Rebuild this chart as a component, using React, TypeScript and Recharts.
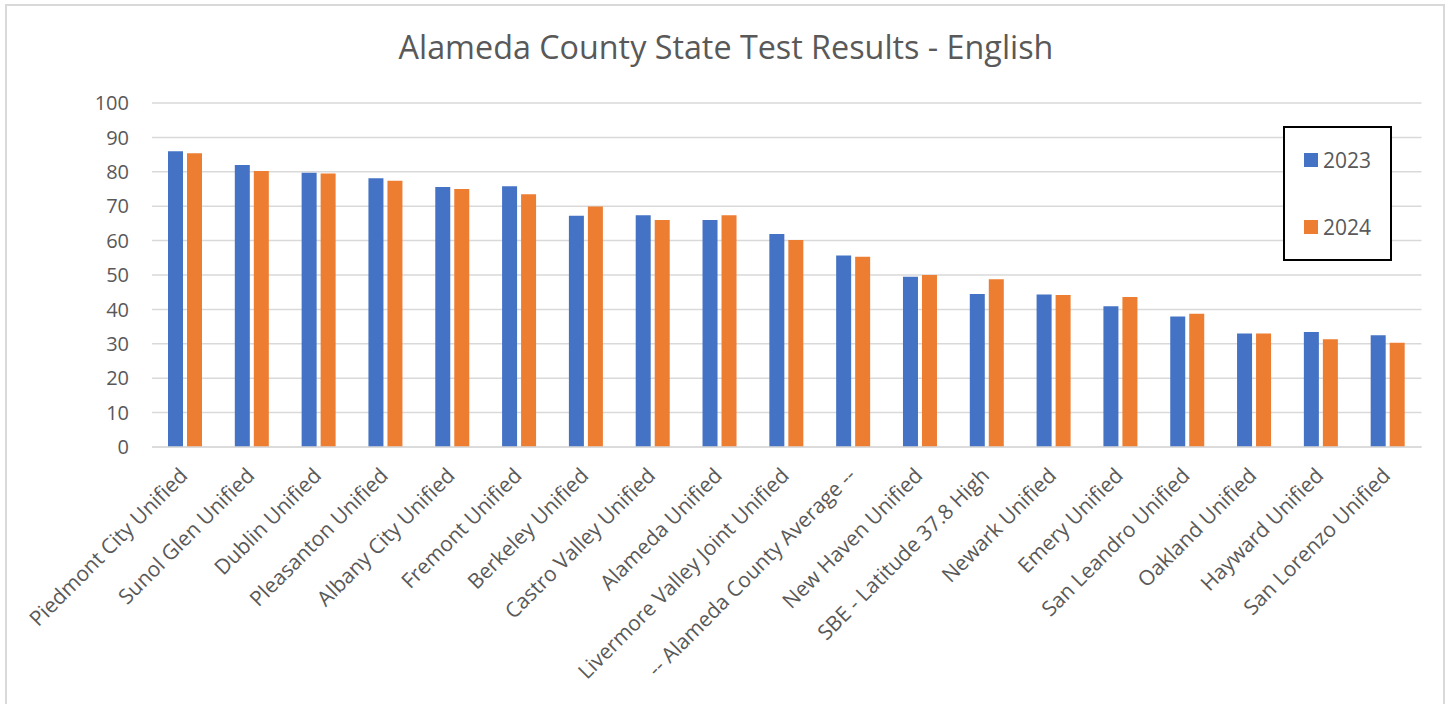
import React from 'react';
import { BarChart, Bar, XAxis, YAxis, CartesianGrid, Legend } from 'recharts';

const categories = [
  'Piedmont City Unified',
  'Sunol Glen Unified',
  'Dublin Unified',
  'Pleasanton Unified',
  'Albany City Unified',
  'Fremont Unified',
  'Berkeley Unified',
  'Castro Valley Unified',
  'Alameda Unified',
  'Livermore Valley Joint Unified',
  '-- Alameda County Average --',
  'New Haven Unified',
  'SBE - Latitude 37.8 High',
  'Newark Unified',
  'Emery Unified',
  'San Leandro Unified',
  'Oakland Unified',
  'Hayward Unified',
  'San Lorenzo Unified',
];

const values2023 = [86.0, 82.0, 79.7, 78.1, 75.6, 75.8, 67.2, 67.4, 66.0, 61.9, 55.7, 49.5, 44.5, 44.3, 40.9, 37.9, 33.0, 33.4, 32.5];
const values2024 = [85.4, 80.2, 79.5, 77.4, 75.0, 73.5, 69.9, 66.0, 67.4, 60.2, 55.3, 50.0, 48.8, 44.2, 43.6, 38.7, 33.0, 31.3, 30.3];

const yTicks = [0, 10, 20, 30, 40, 50, 60, 70, 80, 90, 100];
const seriesNames = ['2023', '2024'];
const seriesColors = ['#4472C4', '#ED7D31'];
const title = 'Alameda County State Test Results - English';

const data = categories.map((name, i) => ({ name, y2023: values2023[i], y2024: values2024[i] }));

const FONT = '"Open Sans", sans-serif';
const TEXT = '#595959';

const XTick = (props: any) => {
  const { x, y, payload } = props;
  return (
    <g transform={`translate(${x + 3.5},${y + 30})`}>
      <text textAnchor="end" transform="rotate(-45)" fill={TEXT} fontSize={21} fontFamily={FONT}>
        {payload.value}
      </text>
    </g>
  );
};

const renderLegend = () => (
  <svg width={109} height={135} style={{ display: 'block' }}>
    <rect x={1} y={1} width={107} height={133} fill="#fff" stroke="#000" strokeWidth={2} />
    {seriesNames.map((n, i) => (
      <g key={n}>
        <rect x={21} y={27 + i * 67} width={14} height={14} fill={seriesColors[i]} />
        <text x={40} y={41.7 + i * 67} fill={TEXT} fontSize={21} fontFamily={FONT}>
          {n}
        </text>
      </g>
    ))}
  </svg>
);

export default function App() {
  return (
    <div style={{ position: 'absolute', left: 0, top: 0, width: 1452, height: 704, overflow: 'hidden', background: '#fff' }}>
      <div
        style={{
          position: 'absolute',
          left: 5,
          top: 4,
          width: 1440,
          height: 760,
          border: '2px solid #d9d9d9',
          boxSizing: 'border-box',
        }}
      />
      <div
        style={{
          position: 'absolute',
          left: 0,
          top: 24,
          width: 1452,
          textAlign: 'center',
          fontFamily: FONT,
          fontSize: 32.3,
          color: TEXT,
          lineHeight: 'normal',
        }}
      >
        {title}
      </div>
      <div style={{ position: 'absolute', left: 0, top: 0 }}>
        <BarChart
          width={1452}
          height={704}
          data={data}
          margin={{ top: 103, right: 30.5, bottom: 0, left: 0 }}
          barSize={15}
          barGap={4}
        >
          <CartesianGrid vertical={false} stroke="#d9d9d9" strokeWidth={1.5} />
          <XAxis
            dataKey="name"
            interval={0}
            height={257}
            tickSize={0}
            tickMargin={0}
            tickLine={false}
            axisLine={{ stroke: '#d9d9d9', strokeWidth: 1.5 }}
            tick={<XTick />}
          />
          <YAxis
            width={152}
            domain={[0, 100]}
            ticks={yTicks}
            axisLine={false}
            tickLine={false}
            tickSize={0}
            tickMargin={23}
            tick={{ fill: TEXT, fontSize: 20, fontFamily: FONT }}
          />
          <Legend
            layout="vertical"
            align="center"
            verticalAlign="middle"
            content={renderLegend}
            wrapperStyle={{ left: 1283, top: 126, width: 109, height: 135 }}
          />
          <Bar dataKey="y2023" name={seriesNames[0]} fill={seriesColors[0]} isAnimationActive={false} />
          <Bar dataKey="y2024" name={seriesNames[1]} fill={seriesColors[1]} isAnimationActive={false} />
        </BarChart>
      </div>
    </div>
  );
}
